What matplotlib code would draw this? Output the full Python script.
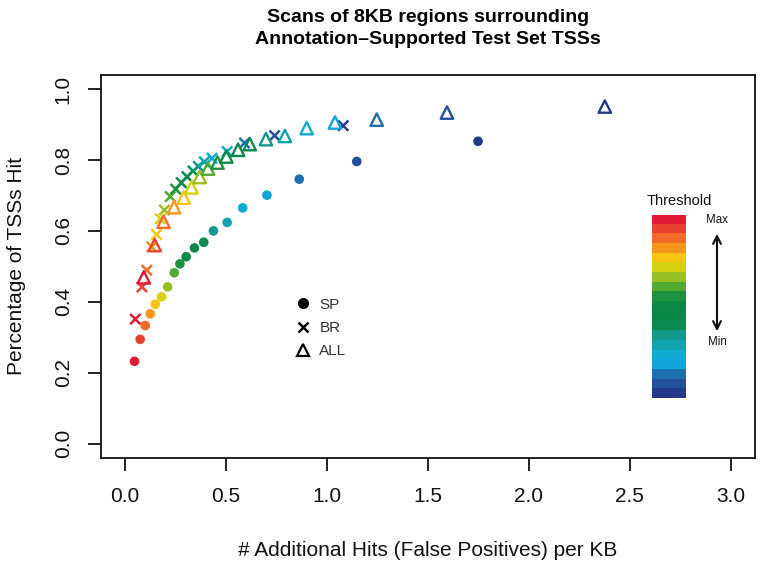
import matplotlib
matplotlib.use("Agg")
import matplotlib.pyplot as plt
import numpy as np
from matplotlib.colors import ListedColormap
from matplotlib.lines import Line2D

plt.rcParams["font.family"] = ["Liberation Sans", "DejaVu Sans"]

# one colour per threshold, max (red) -> min (navy)
threshold_colors = [
    "#E31A35", "#E8412E", "#EF6B27", "#F6961D", "#FBC414", "#D5D10E",
    "#98C024", "#52AA30", "#1C9140", "#0A8A44", "#08894A", "#0A8C50",
    "#12998A", "#12A3B0", "#10ABD0", "#0FA5DC", "#1B6FB0", "#23509A",
    "#25398A",
]

sp_x = [0.046, 0.074, 0.099, 0.124, 0.149, 0.180, 0.210, 0.243, 0.271, 0.302,
        0.343, 0.389, 0.437, 0.505, 0.582, 0.702, 0.862, 1.147, 1.748]
sp_y = [0.232, 0.294, 0.333, 0.366, 0.393, 0.414, 0.442, 0.482, 0.507, 0.527,
        0.552, 0.568, 0.600, 0.624, 0.665, 0.701, 0.746, 0.796, 0.853]

br_x = [0.050, 0.083, 0.107, 0.132, 0.155, 0.174, 0.194, 0.223, 0.250, 0.278,
        0.306, 0.336, 0.362, 0.392, 0.430, 0.505, 0.591, 0.740, 1.080]
br_y = [0.351, 0.442, 0.489, 0.555, 0.590, 0.634, 0.659, 0.697, 0.718, 0.736,
        0.753, 0.769, 0.782, 0.795, 0.805, 0.824, 0.848, 0.869, 0.897]

all_x = [0.092, 0.146, 0.190, 0.242, 0.290, 0.328, 0.369, 0.410, 0.457, 0.501,
         0.559, 0.617, 0.697, 0.791, 0.899, 1.039, 1.246, 1.594, 2.376]
all_y = [0.469, 0.560, 0.626, 0.667, 0.694, 0.723, 0.752, 0.776, 0.793, 0.810,
         0.829, 0.845, 0.859, 0.868, 0.890, 0.906, 0.914, 0.934, 0.951]

x_ticks = [0.0, 0.5, 1.0, 1.5, 2.0, 2.5, 3.0]
y_ticks = [0.0, 0.2, 0.4, 0.6, 0.8, 1.0]
series_names = ["SP", "BR", "ALL"]

W, H = 760, 564
fig = plt.figure(figsize=(W / 100, H / 100), dpi=100)
ax = fig.add_axes([101 / W, 1 - 457.7 / H, 654 / W, 382.7 / H])

ax.scatter(sp_x, sp_y, c=threshold_colors, marker="o", s=48, linewidths=0)
ax.scatter(br_x, br_y, c=threshold_colors, marker="x", s=55, linewidths=1.8)
ax.scatter(all_x, all_y, facecolors="none", edgecolors=threshold_colors,
           marker="^", s=80, linewidths=1.7)

ax.set_xlim(-0.12, 3.12)
ax.set_ylim(-0.04, 1.04)
ax.set_xticks(x_ticks)
ax.set_xticklabels([f"{t:.1f}" for t in x_ticks])
ax.set_yticks(y_ticks)
ax.set_yticklabels([f"{t:.1f}" for t in y_ticks], rotation=90, va="center")
ax.tick_params(direction="out", length=9.4, width=1.3, labelsize=15,
               color="#111111", labelcolor="#111111")
ax.tick_params(axis="x", pad=12)
ax.tick_params(axis="y", pad=11)
for sp in ax.spines.values():
    sp.set_linewidth(1.3)
    sp.set_color("#111111")

ax.set_xlabel("# Additional Hits (False Positives) per KB", fontsize=15,
              color="#111111")
ax.xaxis.set_label_coords(0.5, (457.7 - 550) / 382.7)
ax.xaxis.label.set_va("center")
ax.set_ylabel("Percentage of TSSs Hit", fontsize=15, color="#111111")
ax.yaxis.set_label_coords((17 - 101) / 654, 0.5)
ax.yaxis.label.set_va("center")

fig.text(428 / W, 1 - 18 / H, "Scans of 8KB regions surrounding",
         ha="center", va="center", fontsize=14, fontweight="bold")
fig.text(428 / W, 1 - 39 / H, "Annotation\u2013Supported Test Set TSSs",
         ha="center", va="center", fontsize=14, fontweight="bold")

# legend for marker shapes
handles = [
    Line2D([], [], ls="none", marker="o", color="black", markersize=7),
    Line2D([], [], ls="none", marker="x", color="black", markersize=7,
           markeredgewidth=1.8),
    Line2D([], [], ls="none", marker="^", markerfacecolor="none",
           markeredgecolor="black", markersize=8, markeredgewidth=1.6),
]
ax.legend(handles, series_names, loc="center left", frameon=False,
          bbox_to_anchor=(288 / W, 1 - 328 / H), bbox_transform=fig.transFigure,
          fontsize=11, handlelength=1.0, handletextpad=0.55, labelspacing=0.6,
          labelcolor="#333333", borderpad=0)

# threshold colour strip
cax = fig.add_axes([652.3 / W, 1 - 398.3 / H, 33.4 / W, 183.3 / H])
cax.imshow(np.arange(len(threshold_colors)).reshape(-1, 1),
           cmap=ListedColormap(threshold_colors), aspect="auto",
           interpolation="nearest")
cax.set_axis_off()
fig.text(679 / W, 1 - 201 / H, "Threshold", ha="center", va="center",
         fontsize=10.5, color="#111111")
fig.text(717 / W, 1 - 220 / H, "Max", ha="center", va="center", fontsize=8.3,
         color="#111111")
fig.text(717 / W, 1 - 342 / H, "Min", ha="center", va="center", fontsize=8.3,
         color="#111111")
ax.annotate("", xy=(717 / W, 1 - 231 / H), xytext=(717 / W, 1 - 334 / H),
            xycoords="figure fraction", textcoords="figure fraction",
            arrowprops=dict(arrowstyle="<->", lw=1.5, color="#111111",
                            mutation_scale=14),
            annotation_clip=False)

fig.savefig("out.png", dpi=100)
